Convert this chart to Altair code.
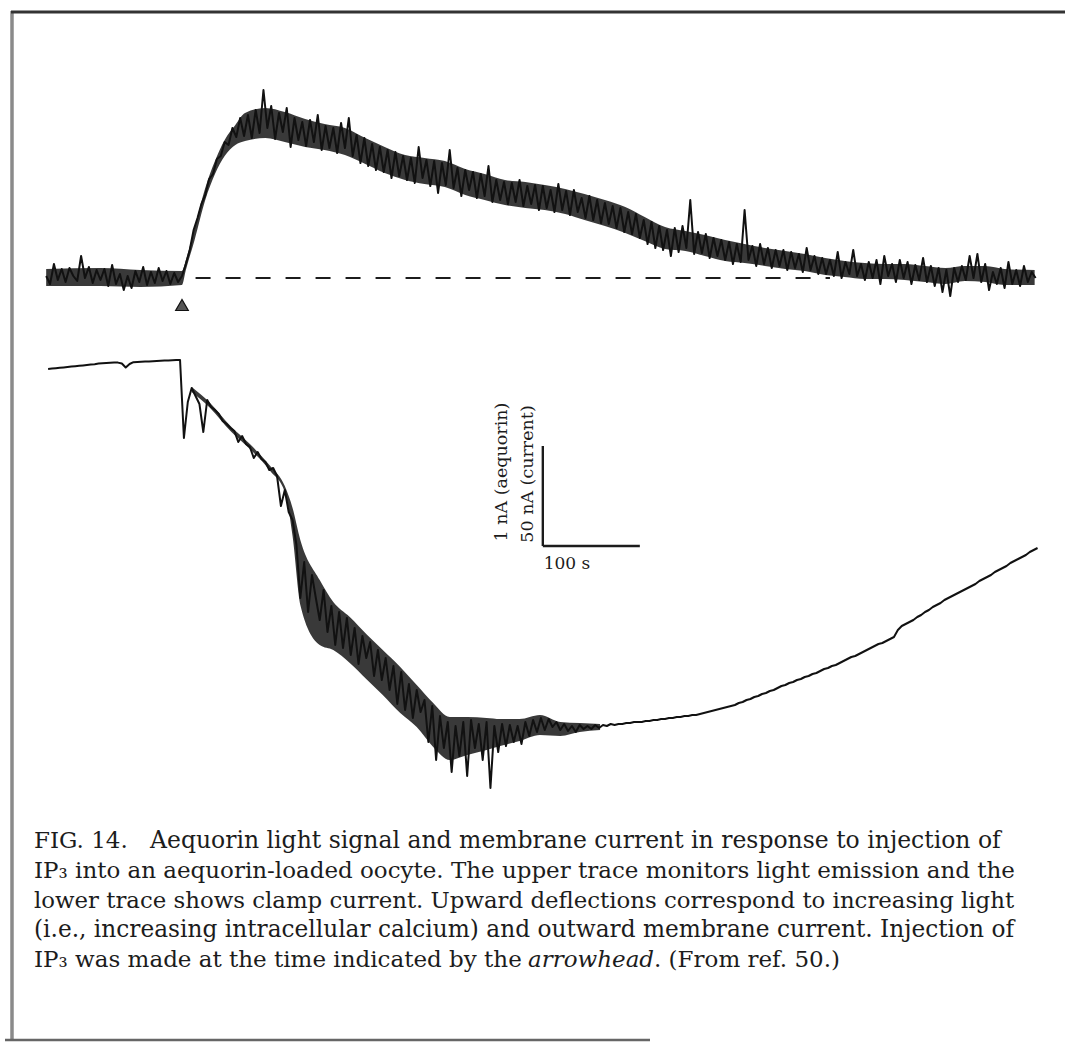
import altair as alt
import pandas as pd

# ---------------- data ----------------
# Upper trace: aequorin light signal, nA, sampled every 4 s starting 140 s before injection
aeq_t0 = -140.0
aeq_dt = 4.0
aequorin_nA = [
    0.02, -0.06, 0.14, -0.02, 0.09, -0.04, 0.10, 0.02, -0.03, 0.22, 0.00, 0.11,
    -0.05, 0.08, -0.02, 0.09, -0.08, 0.13, -0.06, 0.04, -0.12, 0.02, -0.10, 0.07,
    -0.04, 0.11, -0.07, 0.06, -0.05, 0.10, -0.03, 0.07, -0.06, 0.05, -0.04, 0.02,
    0.14, 0.28, 0.48, 0.60, 0.74, 0.83, 0.99, 1.04, 1.19, 1.22, 1.36, 1.33, 1.50,
    1.41, 1.60,
    1.42, 1.63, 1.40, 1.68, 1.45, 1.88, 1.50, 1.72, 1.39, 1.65, 1.46, 1.70, 1.31,
    1.60, 1.38, 1.56, 1.32, 1.58, 1.36, 1.63,
    1.28, 1.52, 1.30, 1.50, 1.25, 1.55, 1.30, 1.60, 1.22, 1.43, 1.15, 1.40, 1.12,
    1.34, 1.08, 1.31, 1.06, 1.28, 1.00, 1.26, 1.02, 1.22, 0.98, 1.20, 0.95, 1.31,
    1.00, 1.18, 0.92, 1.17, 0.85, 1.15, 0.93, 1.28, 0.90, 1.10, 0.82, 1.08, 0.88,
    1.06, 0.80, 1.04, 0.82, 1.12, 0.76, 0.98, 0.78, 0.96, 0.74, 0.95, 0.76, 0.98,
    0.72, 0.92, 0.74, 0.93, 0.68, 0.92, 0.70, 0.88, 0.66, 0.94, 0.68, 0.87, 0.63,
    0.88, 0.66, 0.80, 0.60, 0.82, 0.58, 0.78, 0.55, 0.75, 0.54, 0.72, 0.50, 0.70,
    0.46, 0.66, 0.44, 0.64, 0.40, 0.58, 0.34, 0.56, 0.30, 0.52, 0.28, 0.48, 0.22,
    0.50, 0.26, 0.52, 0.30, 0.78, 0.24, 0.46, 0.25, 0.44, 0.20, 0.40, 0.22, 0.38,
    0.18, 0.36, 0.14, 0.34, 0.16, 0.68, 0.18, 0.32, 0.12, 0.34, 0.14, 0.30, 0.10,
    0.28, 0.12, 0.28, 0.08, 0.26, 0.10, 0.24, 0.06, 0.30, 0.08, 0.22, 0.04, 0.20,
    0.04, 0.18, 0.02, 0.26, 0.00, 0.16, 0.04, 0.28, 0.02, 0.14, -0.02, 0.16, 0.00,
    0.18, -0.06, 0.22, 0.02, 0.14, -0.04, 0.18, 0.00, 0.16, -0.06, 0.13, -0.02,
    0.20, -0.04, 0.12, -0.08, 0.10, -0.14, 0.08, -0.18, 0.10, -0.04, 0.12, -0.02,
    0.22, 0.00, 0.24, -0.04, 0.14, -0.12, 0.06, -0.06, 0.10, -0.10, 0.16, -0.06,
    0.08, -0.08, 0.12, -0.04, 0.06, 0.00,
]

# Noise band of the light signal (read edges, nA) at these times (s)
aeq_band_t = [-140, -84, -43, 0, 4, 13, 24, 34, 44, 55, 65, 86, 106, 127, 147,
              168, 189, 209, 230, 250, 271, 292, 312, 333, 354, 374, 395, 415,
              436, 457, 477, 498, 519, 539, 560, 580, 601, 622, 642, 663, 683,
              704, 725, 745, 766, 787, 807, 828, 848, 879]
aeq_band_lo = [-0.08, -0.08, -0.09, -0.07, 0.08, 0.38, 0.78, 1.04, 1.22, 1.33,
               1.37, 1.40, 1.36, 1.31, 1.28, 1.23, 1.14, 1.05, 0.98, 0.94, 0.91,
               0.83, 0.78, 0.73, 0.70, 0.68, 0.64, 0.58, 0.52, 0.45, 0.37, 0.29,
               0.27, 0.22, 0.17, 0.15, 0.12, 0.09, 0.07, 0.03, 0.01, -0.01, -0.01,
               -0.02, -0.04, -0.06, -0.03, -0.04, -0.07, -0.07]
aeq_band_hi = [0.09, 0.10, 0.08, 0.07, 0.18, 0.50, 0.90, 1.17, 1.38, 1.53, 1.65,
               1.70, 1.66, 1.59, 1.54, 1.50, 1.40, 1.31, 1.23, 1.20, 1.17, 1.09,
               1.04, 0.98, 0.96, 0.93, 0.89, 0.84, 0.78, 0.71, 0.61, 0.51, 0.47,
               0.43, 0.38, 0.34, 0.30, 0.27, 0.24, 0.20, 0.17, 0.15, 0.14, 0.14,
               0.12, 0.10, 0.12, 0.12, 0.09, 0.08]

# Lower trace: membrane clamp current, nA (relative to holding level), every 4 s from 138 s before injection
cur_t0 = -138.0
cur_dt = 4.0
current_nA = [
    -4.5, -4.3, -4.1, -3.9, -3.7, -3.5, -3.3, -3.1, -2.9, -2.7, -2.5, -2.3, -2.1,
    -1.8, -1.65, -1.5, -1.4, -1.3, -1.3, -1.75, -3.75, -2.0, -1.1, -1.0, -0.9,
    -0.8, -0.7, -0.6, -0.5, -0.4, -0.3, -0.2, -0.1, -0.05, 0.0,
    -39, -21, -14, -18, -22, -36, -20, -23.5, -25, -27, -30.5, -32, -34, -35.5,
    -41, -38, -42, -43.5, -49, -46, -49.5, -51, -55, -54, -58, -73, -65, -76,
    -80, -92.5, -119, -101, -126, -107.5, -119, -130, -115, -136, -123, -142.5,
    -126, -144, -129, -147.5, -134, -152, -138, -149, -141, -158, -145, -160,
    -149, -165, -153, -172, -156, -175, -162, -179, -165, -176, -170, -191,
    -173, -200, -178, -194, -181, -206, -183, -198, -181, -208, -180, -194,
    -182, -200, -181, -214, -183, -196, -182, -193, -182.5, -191, -183, -192,
    -181, -188, -180, -186, -179, -185, -179.5, -183.5, -181, -185, -182,
    -185.5, -183, -186, -182.5, -184.5, -183, -184.5, -182.5, -184, -182.5,
    -183, -182, -182.5, -182, -182, -181.5, -181.5, -181, -181, -181, -180.5,
    -180.5, -180, -180, -179.5, -179.5, -179, -179, -178.5, -178.5, -178, -178,
    -177.5, -177.5, -177, -176.5, -176, -175.5, -175, -174.5, -174, -173.5,
    -173, -172.5, -171.5, -171, -170, -169.5, -168.5, -168, -167, -166.5,
    -165.5, -165, -164, -163, -162.5, -161.5, -161, -160, -159.5, -158.5, -158,
    -157, -156.5, -155.5, -154.5, -154, -153, -152.5, -151.5, -150.5, -149.5,
    -148.5, -148, -147, -146, -145, -144, -143, -142, -141.5, -140.5, -139.5,
    -138.5, -135, -133, -132, -131, -130, -128.5, -127.5, -126, -125, -123.5,
    -122.5, -121.5, -120, -119, -118, -117, -116, -115, -114, -113, -112,
    -110.5, -109.5, -108.5, -107.5, -106, -105, -104, -103, -101.5, -100.5,
    -99.5, -98.5, -97.5, -96, -95, -94,
]

# Noise band of the current trace (read edges, nA) at these times (s)
cur_band_t = [10, 29, 50, 70, 91, 106, 114, 122, 142, 156, 173, 191, 207, 225,
              242, 259, 276, 294, 314, 328, 348, 369, 390, 410, 431]
cur_band_lo = [-16, -24, -35.5, -44.5, -55.5, -66, -88, -122.5, -142.5, -145,
               -151.5, -160, -167.5, -176.5, -183.5, -193.5, -200, -197.5, -195,
               -193, -190.5, -187.5, -188, -186, -185]
cur_band_hi = [-13.5, -21.5, -33, -42, -53, -63, -74, -90, -110, -121,
               -128.5, -137.5, -145, -153.5, -162.5, -171.5, -178.5, -178.5,
               -179, -179.5, -179.5, -177.5, -181, -181.5, -182]

# Baseline (dashed) of the light signal, s
baseline_start_s = 14
baseline_end_s = 668
# Injection time (arrowhead), s
injection_s = [0]
# Calibration bar
cal_time_s = [372, 472]
cal_aeq_nA = [-2.68, -1.68]

caption_line1 = ["FIG. 14.", "Aequorin light signal and membrane current in response to injection of"]
caption_body = [
    "IP\u2083 into an aequorin-loaded oocyte. The upper trace monitors light emission and the",
    "lower trace shows clamp current. Upward deflections correspond to increasing light",
    "(i.e., increasing intracellular calcium) and outward membrane current. Injection of",
]
caption_last = ["IP\u2083 was made at the time indicated by the", "arrowhead", ". (From ref. 50.)"]

# ---------------- scales ----------------
W, H = 1065, 1044
X_DOMAIN = [-187.6, 910.3]          # seconds across the page
AEQ_DOMAIN = [-7.66, 2.78]          # nA (aequorin)
CUR_DOMAIN = [-342.0, 180.0]        # nA (current)
SERIF = "DejaVu Serif"
INK = "#1c1c1c"

xs = alt.Scale(domain=X_DOMAIN, nice=False, zero=False)
ys_aeq = alt.Scale(domain=AEQ_DOMAIN, nice=False, zero=False)
ys_cur = alt.Scale(domain=CUR_DOMAIN, nice=False, zero=False)

aeq_df = pd.DataFrame({
    "t": [aeq_t0 + aeq_dt * i for i in range(len(aequorin_nA))],
    "v": aequorin_nA,
})
cur_df = pd.DataFrame({
    "t": [cur_t0 + cur_dt * i for i in range(len(current_nA))],
    "v": current_nA,
})
aeq_band_df = pd.DataFrame({"t": aeq_band_t, "lo": aeq_band_lo, "hi": aeq_band_hi})
cur_band_df = pd.DataFrame({"t": cur_band_t, "lo": cur_band_lo, "hi": cur_band_hi})

upper_band = alt.Chart(aeq_band_df).mark_area(color="#1e1e1e", opacity=0.88, interpolate="monotone").encode(
    x=alt.X("t:Q", scale=xs, axis=None),
    y=alt.Y("lo:Q", scale=ys_aeq, axis=None),
    y2="hi:Q",
)
upper = alt.Chart(aeq_df).mark_line(color="#111111", strokeWidth=2.0, strokeJoin="round").encode(
    x=alt.X("t:Q", scale=xs, axis=None),
    y=alt.Y("v:Q", scale=ys_aeq, axis=None),
)

lower_band = alt.Chart(cur_band_df).mark_area(color="#1e1e1e", opacity=0.88, interpolate="monotone").encode(
    x=alt.X("t:Q", scale=xs, axis=None),
    y=alt.Y("lo:Q", scale=ys_cur, axis=None),
    y2="hi:Q",
)
lower = alt.Chart(cur_df).mark_line(color="#111111", strokeWidth=2.0, strokeJoin="round").encode(
    x=alt.X("t:Q", scale=xs, axis=None),
    y=alt.Y("v:Q", scale=ys_cur, axis=None),
)

dashed = alt.Chart(pd.DataFrame({"a": [baseline_start_s], "b": [baseline_end_s], "lvl": [0.0]})).mark_rule(
    color=INK, strokeWidth=2.2, strokeDash=[15, 15]
).encode(
    x=alt.X("a:Q", scale=xs, axis=None),
    x2="b:Q",
    y=alt.Y("lvl:Q", scale=ys_aeq, axis=None),
)

arrow = alt.Chart(pd.DataFrame({"t": injection_s, "lvl": [-0.27]})).mark_point(
    shape="triangle-up", filled=True, size=160, color="#555555", stroke="#111111", strokeWidth=1.2, opacity=1
).encode(
    x=alt.X("t:Q", scale=xs, axis=None),
    y=alt.Y("lvl:Q", scale=ys_aeq, axis=None),
)

cal_v = alt.Chart(pd.DataFrame({"t": [cal_time_s[0]], "lo": [cal_aeq_nA[0]], "hi": [cal_aeq_nA[1]]})).mark_rule(
    color=INK, strokeWidth=2.4
).encode(
    x=alt.X("t:Q", scale=xs, axis=None),
    y=alt.Y("lo:Q", scale=ys_aeq, axis=None),
    y2="hi:Q",
)
cal_h = alt.Chart(pd.DataFrame({"a": [cal_time_s[0]], "b": [cal_time_s[1]], "lvl": [cal_aeq_nA[0]]})).mark_rule(
    color=INK, strokeWidth=2.4
).encode(
    x=alt.X("a:Q", scale=xs, axis=None),
    x2="b:Q",
    y=alt.Y("lvl:Q", scale=ys_aeq, axis=None),
)


def txt(s, x, y, size=23, angle=0, align="left", style="normal", baseline="alphabetic"):
    kw = dict(font=SERIF, fontSize=size, color=INK, align=align, baseline=baseline, fontStyle=style)
    if angle:
        kw["angle"] = angle
    return alt.Chart(pd.DataFrame({"s": [s]})).mark_text(**kw).encode(
        text="s:N", x=alt.value(x), y=alt.value(y)
    )


labels = [
    txt("1 nA (aequorin)", 502, 472, size=17.5, angle=270, align="center", baseline="middle"),
    txt("50 nA (current)", 528, 474, size=17.5, angle=270, align="center", baseline="middle"),
    txt("100 s", 567, 564, size=17, align="center", baseline="middle"),
]

body_sizes = [22.98, 22.84, 23.27]
caption = [txt(caption_line1[0], 34, 848, size=23), txt(caption_line1[1], 150, 848, size=23.5)]
for k, line in enumerate(caption_body):
    caption.append(txt(line, 34, 878 + 29.5 * k, size=body_sizes[k]))
caption += [
    txt(caption_last[0], 34, 966.5),
    txt(caption_last[1], 528, 966.5, style="italic"),
    txt(caption_last[2], 654, 966.5),
]


def frame(x, x2, y, y2, color, w):
    return alt.Chart(pd.DataFrame({"k": [0]})).mark_rule(color=color, strokeWidth=w).encode(
        x=alt.value(x), x2=alt.value(x2), y=alt.value(y), y2=alt.value(y2)
    )


borders = [
    frame(12, 12, 11, 1041, "#8a8a8a", 3.5),
    frame(11, 1065, 12, 12, "#333333", 3),
    frame(5, 650, 1040, 1040, "#666666", 2.5),
]

chart = alt.layer(
    *borders, upper_band, upper, dashed, arrow, lower_band, lower, cal_v, cal_h, *labels, *caption
).resolve_scale(y="independent", x="shared").properties(
    width=W, height=H, padding=0, autosize=alt.AutoSizeParams(type="none"), background="white"
).configure_view(stroke=None)

chart.save("out.html", embed_options={"renderer": "svg", "actions": False})
